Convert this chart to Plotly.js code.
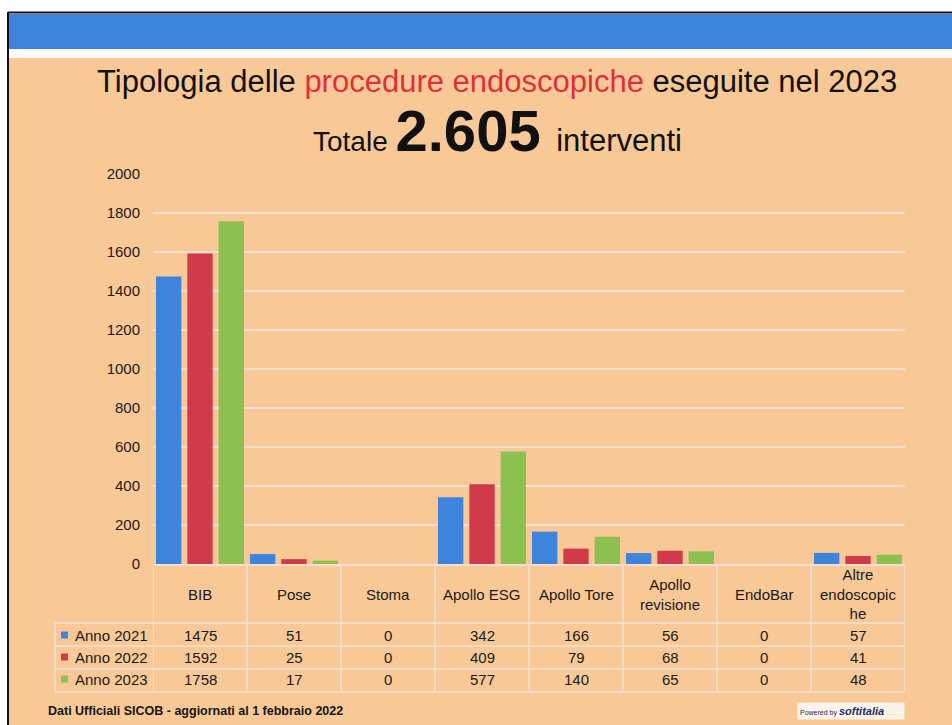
<!DOCTYPE html>
<html>
<head>
<meta charset="utf-8">
<script src="https://cdn.plot.ly/plotly-3.0.1.min.js"></script>
<style>html,body{margin:0;padding:0;background:#fff;}#chart{width:952px;height:725px;}</style>
</head>
<body>
<div id="chart"></div>
<script>
// ---- data ----
const categories = ['BIB','Pose','Stoma','Apollo ESG','Apollo Tore','Apollo revisione','EndoBar','Altre endoscopiche'];
const headerLabels = ['BIB','Pose','Stoma','Apollo ESG','Apollo Tore','Apollo<br>revisione','EndoBar','Altre<br>endoscopic<br>he'];
const seriesNames = ['Anno 2021','Anno 2022','Anno 2023'];
const anno2021 = [1475, 51, 0, 342, 166, 56, 0, 57];
const anno2022 = [1592, 25, 0, 409, 79, 68, 0, 41];
const anno2023 = [1758, 17, 0, 577, 140, 65, 0, 48];
const yTicks = [0,200,400,600,800,1000,1200,1400,1600,1800,2000];

// ---- style ----
const W = 952, H = 725;
const colors = ['#3E84DD','#D03A4B','#8CC152'];
const font = 'Liberation Sans, Arial, Helvetica, sans-serif';
const gridCol = '#F3DED2';
const px = v => v / W;            // x pixel -> paper
const py = v => (H - v) / H;      // y pixel -> paper
const plotL = 153, plotR = 905, plotT = 174, plotB = 564;

const seriesVals = [anno2021, anno2022, anno2023];
const traces = seriesVals.map((vals, i) => ({
  type: 'bar', x: categories, y: vals, name: seriesNames[i],
  marker: {color: colors[i]}, hoverinfo: 'x+y+name'
}));

const shapes = [];
const annotations = [];

// slide frame: blue band, white strip, black border
shapes.push({type:'rect', xref:'paper', yref:'paper', x0:px(8), x1:1, y0:py(725), y1:py(12), fillcolor:'#F8C997', line:{width:0}, layer:'below'});
shapes.push({type:'rect', xref:'paper', yref:'paper', x0:px(9), x1:1, y0:py(58), y1:py(13), fillcolor:'#FFFFFF', line:{width:0}, layer:'below'});
shapes.push({type:'rect', xref:'paper', yref:'paper', x0:px(9), x1:1, y0:py(49), y1:py(14), fillcolor:'#3F83DD', line:{width:0}, layer:'below'});
shapes.push({type:'line', xref:'paper', yref:'paper', x0:px(8), x1:1, y0:py(12.5), y1:py(12.5), line:{color:'#111', width:2}});
shapes.push({type:'line', xref:'paper', yref:'paper', x0:px(8), x1:px(8), y0:py(12), y1:0, line:{color:'#111', width:2}});

// table grid
const nCat = categories.length;
const tblTop = plotB + 1, hdrBot = 623, rowLines = [646, 669, 692];
for (let i = 0; i <= nCat; i++) {
  shapes.push({type:'line', xref:'x', yref:'paper', x0:i-0.5, x1:i-0.5, y0:py(tblTop), y1:py(692), line:{color:gridCol, width:1.5}});
}
shapes.push({type:'line', xref:'paper', yref:'paper', x0:px(55), x1:px(55), y0:py(hdrBot), y1:py(692), line:{color:gridCol, width:1.5}});
[hdrBot].concat(rowLines).forEach(y => {
  shapes.push({type:'line', xref:'paper', yref:'paper', x0:px(55), x1:px(plotR), y0:py(y), y1:py(y), line:{color:gridCol, width:1.5}});
});

// header labels
headerLabels.forEach((lab, i) => {
  annotations.push({xref:'x', yref:'paper', x:categories[i], y:py(594), text:lab, showarrow:false,
    xanchor:'center', yanchor:'middle', font:{family:font, size:15, color:'#1a1a1a'}});
});
// rows
const rowY = [635, 657, 679];
seriesVals.forEach((vals, r) => {
  shapes.push({type:'rect', xref:'paper', yref:'paper', x0:px(61), x1:px(68), y0:py(rowY[r]+3.5), y1:py(rowY[r]-3.5), fillcolor:colors[r], line:{width:0}});
  annotations.push({xref:'paper', yref:'paper', x:px(73), y:py(rowY[r]), text:seriesNames[r], showarrow:false,
    xanchor:'left', yanchor:'middle', font:{family:font, size:15, color:'#1a1a1a'}});
  vals.forEach((v, i) => {
    annotations.push({xref:'x', yref:'paper', x:categories[i], y:py(rowY[r]), text:String(v), showarrow:false,
      xanchor:'center', yanchor:'middle', font:{family:font, size:15, color:'#1a1a1a'}});
  });
});

// titles
annotations.push({xref:'paper', yref:'paper', x:px(497), y:py(82), xanchor:'center', yanchor:'middle', showarrow:false,
  text:'Tipologia delle <span style="color:#E0303B">procedure endoscopiche</span> eseguite nel 2023',
  font:{family:font, size:31, color:'#111111'}});
annotations.push({xref:'paper', yref:'paper', x:px(497), y:py(130), xanchor:'center', yanchor:'middle', showarrow:false,
  text:'Totale <span style="font-size:58px"><b>2.605</b></span>  <span style="font-size:31px">interventi</span>',
  font:{family:font, size:28, color:'#111111'}});

// footer
annotations.push({xref:'paper', yref:'paper', x:px(46), y:py(711), xanchor:'left', yanchor:'middle', showarrow:false,
  text:'<b>Dati Ufficiali SICOB - aggiornati al 1 febbraio 2022</b>', font:{family:font, size:12.5, color:'#151515'}});
annotations.push({xref:'paper', yref:'paper', x:px(905), y:py(711), xanchor:'right', yanchor:'middle', showarrow:false,
  bgcolor:'#FBF4EA', borderpad:2,
  text:'<span style="font-size:7px">Powered by </span><b><i>softitalia</i></b><span style="font-size:7px;color:#C9D9A8"> ........</span>',
  font:{family:font, size:11, color:'#1E2A5C'}});

const layout = {
  width: W, height: H,
  margin: {l:0, r:0, t:0, b:0},
  paper_bgcolor: '#FFFFFF', plot_bgcolor: 'rgba(0,0,0,0)',
  showlegend: false,
  barmode: 'group', bargap: 0.0, bargroupgap: 0.19,
  xaxis: {domain:[px(plotL), px(plotR)], range:[-0.5, nCat-0.5], type:'category',
    showticklabels:false, showgrid:false, zeroline:false, showline:true, linecolor:gridCol, linewidth:1.5, ticks:'', fixedrange:true},
  yaxis: {domain:[py(plotB), py(plotT)], range:[0, 2000], tickvals:yTicks, ticktext:yTicks.map(String),
    showgrid:true, gridcolor:gridCol, gridwidth:1.5, zeroline:false, showline:false, ticks:'',
    ticklabelstandoff:12, tickfont:{family:font, size:15, color:'#1a1a1a'}, fixedrange:true},
  shapes: shapes, annotations: annotations,
  font: {family: font}
};

Plotly.newPlot('chart', traces, layout, {displayModeBar:false, staticPlot:true});
</script>
</body>
</html>
